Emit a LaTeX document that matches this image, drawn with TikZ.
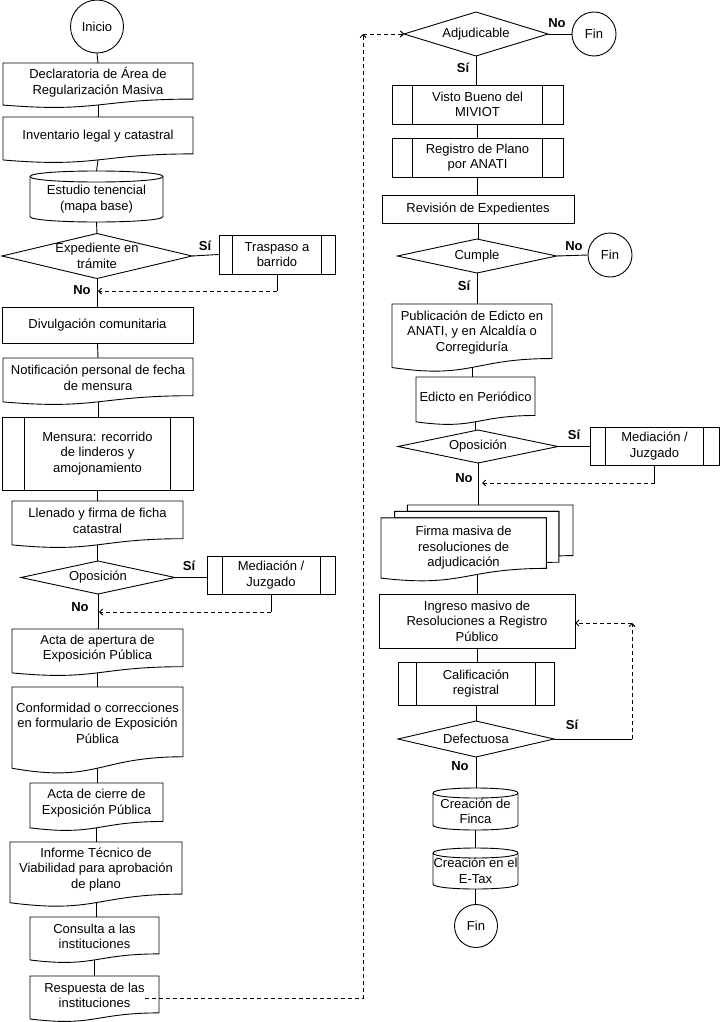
\documentclass[tikz,border=0pt]{standalone}
\usepackage{fontspec}
\setmainfont{Liberation Sans}
\usetikzlibrary{arrows.meta}
\tikzset{
  shp/.style={draw=black, fill=white, line width=0.9pt},
  txt/.style={align=center, inner sep=0pt, font=\fontsize{13}{15.5}\selectfont},
  boxnode/.style={txt, draw=black, fill=white, line width=0.9pt},
  conn/.style={draw=black, line width=0.9pt},
  dasharrow/.style={draw=black, line width=0.9pt, dash pattern=on 4pt off 3pt, -{Straight Barb[length=3pt,width=6pt]}},
  lbl/.style={font=\fontsize{13}{15.5}\selectfont\bfseries, inner sep=0pt},
}
% document shape: name, x1, x2, top, h, text
\newcommand\docnode[6]{%
  \pgfmathsetmacro\dxm{(#2+#3)/2}%
  \pgfmathsetmacro\dyr{#4+0.802*#5}%
  \pgfmathsetmacro\dyl{#4+0.934*#5}%
  \pgfmathsetmacro\dyc{#4+1.107*#5}%
  \pgfmathsetmacro\dyt{#4+0.401*#5+1}%
  \pgfmathsetmacro\dyb{#4+0.933*#5}%
  \draw[shp] (#2,#4) -- (#3,#4) -- (#3,\dyr) .. controls (\dxm,\dyr) and (\dxm,\dyc) .. (#2,\dyl) -- cycle;
  \node[txt] (#1) at (\dxm,\dyt) {#6};
  \coordinate (#1-n) at (\dxm,#4);
  \coordinate (#1-s) at (\dxm,\dyb);
}
% cylinder: name, x1, x2, top, bottom, ry, text
\newcommand\cylnode[7]{%
  \pgfmathsetmacro\cxm{(#2+#3)/2}%
  \pgfmathsetmacro\cyt{#4+#6}%
  \pgfmathsetmacro\cyb{#5-#6}%
  \pgfmathsetmacro\cyk{#5-#6+1.3333*#6}%
  \pgfmathsetmacro\cyu{#4+#6-1.3333*#6}%
  \pgfmathsetmacro\cyd{#4+#6+1.3333*#6}%
  \pgfmathsetmacro\cytx{(#4+#6+#5)/2}%
  \draw[shp] (#2,\cyt) -- (#2,\cyb) .. controls (#2,\cyk) and (#3,\cyk) .. (#3,\cyb) -- (#3,\cyt) .. controls (#3,\cyu) and (#2,\cyu) .. (#2,\cyt) -- cycle;
  \draw[conn] (#2,\cyt) .. controls (#2,\cyd) and (#3,\cyd) .. (#3,\cyt);
  \node[txt] (#1) at (\cxm,\cytx) {#7};
  \coordinate (#1-n) at (\cxm,#4);
  \coordinate (#1-s) at (\cxm,#5);
}
% predefined process: name, x1, x2, y1, y2, text
\newcommand\prednode[6]{%
  \pgfmathsetmacro\pcx{(#2+#3)/2}%
  \pgfmathsetmacro\pcy{(#4+#5)/2}%
  \pgfmathsetmacro\pw{#3-#2}%
  \pgfmathsetmacro\ph{#5-#4}%
  \pgfmathsetmacro\pa{#2+0.1176*(#3-#2)}%
  \pgfmathsetmacro\pb{#3-0.1176*(#3-#2)}%
  \node[boxnode, minimum width=\pw pt, minimum height=\ph pt] (#1) at (\pcx,\pcy) {#6};
  \draw[conn] (\pa,#4) -- (\pa,#5) (\pb,#4) -- (\pb,#5);
}
% process rectangle: name, x1, x2, y1, y2, text
\newcommand\rectnode[6]{%
  \pgfmathsetmacro\pcx{(#2+#3)/2}%
  \pgfmathsetmacro\pcy{(#4+#5)/2}%
  \pgfmathsetmacro\pw{#3-#2}%
  \pgfmathsetmacro\ph{#5-#4}%
  \node[boxnode, minimum width=\pw pt, minimum height=\ph pt] (#1) at (\pcx,\pcy) {#6};
}
% decision: name, cx, cy, hw, hh, text
\newcommand\decnode[6]{%
  \pgfmathsetmacro\qn{#3-#5}%
  \pgfmathsetmacro\qs{#3+#5}%
  \pgfmathsetmacro\qe{#2+#4}%
  \pgfmathsetmacro\qw{#2-#4}%
  \draw[shp] (#2,\qn) -- (\qe,#3) -- (#2,\qs) -- (\qw,#3) -- cycle;
  \node[txt] (#1) at (#2,#3) {#6};
  \coordinate (#1-n) at (#2,\qn);
  \coordinate (#1-s) at (#2,\qs);
  \coordinate (#1-e) at (\qe,#3);
  \coordinate (#1-w) at (\qw,#3);
}
\begin{document}
\begin{tikzpicture}[x=1pt,y=-1pt]
\useasboundingbox[fill=white] (0,0) rectangle (720,1022);

% ---------------- left column ----------------
\node[boxnode, circle, minimum size=53pt] (inicio) at (97,26.5) {Inicio};
\docnode{decl}{3}{193}{63}{45}{Declaratoria de Área de\\Regularización Masiva}
\docnode{inv}{3}{193}{117}{46}{Inventario legal y catastral}
\cylnode{estudio}{30}{163}{171}{222}{5.5}{Estudio tenencial\\(mapa base)}
\decnode{exped}{97}{256}{95}{22.5}{Expediente en\\trámite}
\prednode{trasp}{219}{335}{235}{274}{Traspaso a\\barrido}
\rectnode{divul}{2}{193}{307}{343}{Divulgación comunitaria}
\docnode{notif}{3}{193}{358}{47}{Notificación personal de fecha\\de mensura}
\prednode{mensura}{2}{193}{417}{490}{Mensura: recorrido\\de linderos y\\amojonamiento}
\docnode{llenado}{12}{183}{501}{47}{Llenado y firma de ficha\\catastral}
\decnode{opos1}{98}{577.5}{77}{16.5}{Oposición}
\prednode{med1}{207}{335}{556}{594}{Mediación /\\Juzgado}
\docnode{acta1}{12}{183}{629}{47}{Acta de apertura de\\Exposición Pública}
\docnode{conf}{12}{183}{687}{87}{Conformidad o correcciones\\en formulario de Exposición\\Pública}
\docnode{cierre}{30}{163}{783}{48}{Acta de cierre de\\Exposición Pública}
\docnode{informe}{10}{182}{842}{65}{Informe Técnico de\\Viabilidad para aprobación\\de plano}
\docnode{consulta}{30}{159}{917}{46}{Consulta a las\\instituciones}
\docnode{resp}{30}{159}{976}{46}{Respuesta de las\\instituciones}

% ---------------- right column ----------------
\decnode{adj}{476}{34}{72}{22}{Adjudicable}
\node[boxnode, circle, minimum size=44pt] (fin1) at (594,34) {Fin};
\prednode{visto}{392}{563}{85}{124}{Visto Bueno del\\MIVIOT}
\prednode{regis}{392}{563}{138}{177}{Registro de Plano\\por ANATI}
\rectnode{revis}{382}{574}{195}{223}{Revisión de Expedientes}
\decnode{cumple}{477}{256}{79.5}{17}{Cumple}
\node[boxnode, circle, minimum size=44pt] (fin2) at (610,255) {Fin};
\docnode{publ}{392}{552}{304}{68}{Publicación de Edicto en\\ANATI, y en Alcaldía o\\Corregiduría}
\docnode{edicto}{416}{535}{377}{48}{Edicto en Periódico}
\decnode{opos2}{478}{446.5}{80}{16.5}{Oposición}
\prednode{med2}{590}{719}{427}{465}{Mediación /\\Juzgado}
% multi-document
\draw[shp] (407.4,511.4) -- (407.4,505) -- (573,505) -- (573,555.6) .. controls (565.9,555.6) and (558.8,555.9) .. (558.8,555.9) -- (558.8,511.4) -- cycle;
\draw[shp] (394.6,517.9) -- (394.6,511.4) -- (558.8,511.4) -- (558.8,562.2) .. controls (552.5,562.2) and (546.3,562.5) .. (546.3,562.5) -- (546.3,517.9) -- cycle;
\draw[shp] (381,578.1) .. controls (463.6,587.8) and (463.6,568.4) .. (546.3,568.4) -- (546.3,517.9) -- (381,517.9) -- cycle;
\node[txt] (firma) at (463.6,548) {Firma masiva de\\resoluciones de\\adjudicación};
\coordinate (firma-n) at (477,505);
\coordinate (firma-s) at (477,574.5);
\rectnode{ingreso}{379}{575}{594}{648}{Ingreso masivo de\\Resoluciones a Registro\\Público}
\prednode{calif}{398}{554}{662}{705}{Calificación\\registral}
\decnode{defect}{476}{739}{78}{18}{Defectuosa}
\cylnode{finca}{433}{518}{788}{830}{5}{Creación de\\Finca}
\cylnode{etax}{433}{518}{848}{889}{5}{Creación en el\\E-Tax}
\node[boxnode, circle, minimum size=43pt] (fin3) at (476,926) {Fin};

% ---------------- connectors left ----------------
\draw[conn] (inicio.south) -- (decl-n);
\draw[conn] (decl-s) -- (inv-n);
\draw[conn] (inv-s) -- (estudio-n);
\draw[conn] (estudio-s) -- (exped-n);
\draw[conn] (exped-s) -- (exped-s |- divul.north);
\draw[conn] (exped-e) -- (trasp.west);
\draw[conn] (divul.south) -- (notif-n);
\draw[conn] (notif-s) -- (notif-s |- mensura.north);
\draw[conn] (mensura.south) -- (mensura.south |- llenado-n);
\draw[conn] (llenado-s) -- (llenado-s |- opos1-n);
\draw[conn] (opos1-e) -- (opos1-e -| med1.west);
\draw[conn] (opos1-s) -- (opos1-s |- acta1-n);
\draw[conn] (acta1-s) -- (acta1-n |- conf-n);
\draw[conn] (conf-s) -- (conf-s |- cierre-n);
\draw[conn] (cierre-s) -- (cierre-s |- informe-n);
\draw[conn] (informe-s) -- (informe-s |- consulta-n);
\draw[conn] (consulta-s) -- (resp-n);

\coordinate (r1) at (277,291);
\coordinate (r1e) at (98,291);
\draw[conn] (trasp.south) -- (r1);
\draw[dasharrow] (r1) -- (r1e);
\coordinate (r2) at (271,612);
\coordinate (r2e) at (99,612);
\draw[conn] (med1.south) -- (r2);
\draw[dasharrow] (r2) -- (r2e);

\coordinate (c1) at (363,998);
\coordinate (c2) at (363,34);
\draw[dasharrow] (resp.east |- c1) -- (c1) -- (c2);
\draw[dasharrow] (c2) -- (adj-w);

% ---------------- connectors right ----------------
\draw[conn] (adj-e) -- (fin1.west);
\draw[conn] (adj-s) -- (adj-s |- visto.north);
\draw[conn] (visto.south) -- (regis.north);
\draw[conn] (regis.south) -- (regis.south |- revis.north);
\draw[conn] (revis.south) -- (revis.south |- cumple-n);
\draw[conn] (cumple-e) -- (fin2.west);
\draw[conn] (cumple-s) -- (cumple-s |- publ-n);
\draw[conn] (publ-s) -- (publ-s |- edicto-n);
\draw[conn] (edicto-s) -- (edicto-s |- opos2-n);
\draw[conn] (opos2-e) -- (opos2-e -| med2.west);
\draw[conn] (opos2-s) -- (opos2-s |- firma-n);
\draw[conn] (firma-s) -- (firma-s |- ingreso.north);
\draw[conn] (ingreso.south) -- (ingreso.south |- calif.north);
\draw[conn] (calif.south) -- (calif.south |- defect-n);
\draw[conn] (defect-s) -- (defect-s |- finca-n);
\draw[conn] (finca-s) -- (finca-s |- etax-n);
\draw[conn] (etax-s) -- (etax-s |- fin3.north);

\coordinate (r3) at (654.5,483);
\coordinate (r3e) at (482,483);
\draw[conn] (med2.south) -- (r3);
\draw[dasharrow] (r3) -- (r3e);

\coordinate (d1) at (632,739);
\coordinate (d2) at (632,623);
\draw[conn] (defect-e) -- (d1);
\draw[dasharrow] (d1) -- (d2);
\draw[dasharrow] (d2) -- (ingreso.east |- d2);

% ---------------- labels ----------------
\node[lbl] (l1) at (205,246) {Sí};
\node[lbl] (l2) at (82,290) {No};
\node[lbl] (l3) at (189,566) {Sí};
\node[lbl] (l4) at (80,607) {No};
\node[lbl] (l5) at (557,23) {No};
\node[lbl] (l6) at (463,68) {Sí};
\node[lbl] (l7) at (574,246) {No};
\node[lbl] (l8) at (464,286) {Sí};
\node[lbl] (l9) at (574,435) {Sí};
\node[lbl] (l10) at (464,478) {No};
\node[lbl] (l11) at (572,725) {Sí};
\node[lbl] (l12) at (460,766) {No};
\end{tikzpicture}
\end{document}
